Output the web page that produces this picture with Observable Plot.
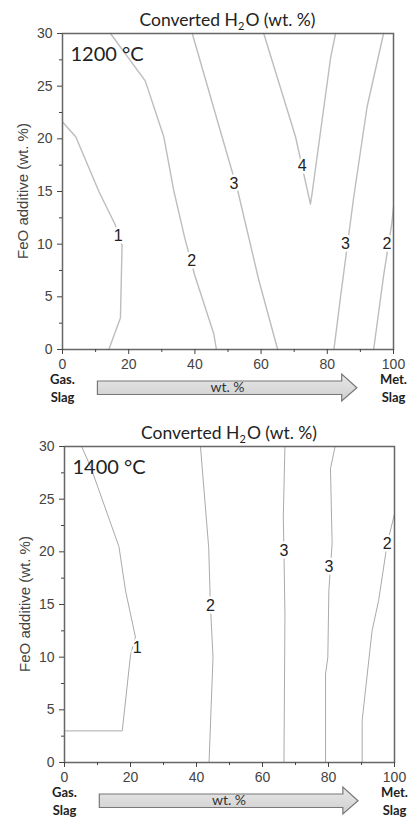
<!DOCTYPE html>
<html><head><meta charset="utf-8">
<script src="https://cdn.jsdelivr.net/npm/d3@7"></script>
<script src="https://cdn.jsdelivr.net/npm/@observablehq/plot@0.6"></script>
<style>
body{margin:0;background:#fff;}
#chart{width:413px;}
#chart svg{display:block;}
</style></head><body><div id="chart"></div>
<script>
// ---- axis ticks & labels ----
const xTicks = [0, 20, 40, 60, 80, 100];
const xMinor = [10, 30, 50, 70, 90];
const yTicks = [0, 5, 10, 15, 20, 25, 30];
const yMinor = [2.5, 7.5, 12.5, 17.5, 22.5, 27.5];
const yLabel = "FeO additive (wt. %)";
const titleParts = ["Converted H", "2", "O (wt. %)"];
const endX = [0, 100];
const endText = ["Gas.\nSlag", "Met.\nSlag"];
const arrowText = "wt. %";
const arrowRange = [10.7, 84.5, 89.1]; // body start, head base, tip (x units)

// ---- 1200 °C contour lines (x = wt.%, y = FeO wt.%) ----
const t1200_level1a = [[0,21.6],[4,20.2],[11,15],[16,11.8],[18,9.9],[17.5,3],[14,0]];
const t1200_level2a = [[14.5,30],[25,25.5],[30.6,20.2],[33.6,15.1],[37,10.5],[40,7],[45.7,1.5],[46.5,0]];
const t1200_level3a = [[39.2,30],[48.2,20.2],[53,15],[59.3,6.6],[65,0]];
const t1200_level4  = [[60.8,30],[70.4,20.2],[74.9,13.8],[75.4,14.8],[81,27.7],[82.5,30]];
const t1200_level3b = [[97,30],[92,23],[88,14.5],[84,5],[82,0]];
const t1200_level2b = [[100,13.5],[99.5,12],[97,7],[94,0]];
const t1200_labX = [16.8, 39, 51.8, 72.4, 85.5, 98];
const t1200_labY = [10.8, 8.4, 15.7, 17.4, 10, 10];
const t1200_labT = ["1", "2", "3", "4", "3", "2"];

// ---- 1400 °C contour lines ----
const t1400_level1a = [[5.2,30],[8,28],[16.5,20.5],[18.5,16.3],[21.5,11.9],[20,10.2],[17.5,3],[0,3]];
const t1400_level2a = [[41.2,30],[43.7,20.4],[44.2,15],[45,10],[43.8,0]];
const t1400_level3a = [[66.8,30],[66.3,23.3],[66.5,20],[66.8,14],[66.5,0]];
const t1400_level3b = [[82,30],[80.6,27.9],[81.1,20.8],[80.1,16.3],[79.8,10],[79.1,8.4],[79.1,0]];
const t1400_level2b = [[100,23.6],[97.8,20.8],[95.2,15.4],[93.2,12.5],[90.2,4],[90.2,0]];
const t1400_labX = [22, 44.2, 66.5, 80.1, 97.8];
const t1400_labY = [10.9, 14.9, 20.1, 18.6, 20.8];
const t1400_labT = ["1", "2", "3", "3", "2"];

const SANS = "'Liberation Sans', Arial, sans-serif";
const CAL = "Lato, 'Open Sans', sans-serif";

function panel(o) {
  const lines = o.lines.flatMap((pts, i) => pts.map(([x, y]) => ({id: i, x, y})));
  const labels = o.labX.map((x, i) => ({x, y: o.labY[i], t: o.labT[i]}));
  const ends = endX.map((x, i) => ({x, t: endText[i]}));
  const plot = Plot.plot({
    width: 413, height: o.height,
    marginTop: o.marginTop, marginBottom: o.marginBottom,
    marginLeft: o.marginLeft, marginRight: o.marginRight,
    x: {domain: [0, 100]},
    y: {domain: [0, 30]},
    style: {fontFamily: SANS, background: "white", overflow: "visible"},
    marks: [
      Plot.line(lines, {x: "x", y: "y", z: "id", stroke: o.lineColor, strokeWidth: o.lineWidth}),
      Plot.text(labels, {x: "x", y: "y", text: "t", fontSize: 16, fontFamily: SANS, fill: "#222",
        stroke: "white", strokeWidth: 5, paintOrder: "stroke"}),
      Plot.frame({stroke: "#666", strokeWidth: 1.5}),
      Plot.axisX(xTicks, {tickSize: 5, tickPadding: 5, fontSize: 14, fontFamily: SANS, color: "#444", label: null}),
      Plot.axisX(xMinor, {tickSize: 3, tickFormat: () => "", color: "#444", label: null}),
      Plot.axisY(yTicks, {tickSize: 5, tickPadding: 5, fontSize: 14, fontFamily: SANS, color: "#444", label: null}),
      Plot.axisY(yMinor, {tickSize: 3, tickFormat: () => "", color: "#444", label: null}),
      Plot.text([o.temp], {text: d => d, frameAnchor: "top-left", textAnchor: "start", lineAnchor: "top",
        dx: 8, dy: 13.5, fontSize: 20, fontFamily: CAL, fill: "#222"}),
      Plot.text(ends, {x: "x", text: "t", frameAnchor: "bottom", lineAnchor: "top", dy: 22,
        fontSize: 13, fontWeight: "bold", fontFamily: CAL, lineHeight: 1.35, fill: "#222"})
    ]
  });
  const sx = plot.scale("x");
  const sy = plot.scale("y");
  const svg = d3.select(plot);
  const fb = o.height - o.marginBottom;
  // y-axis title
  svg.append("text")
    .attr("transform", `translate(${o.marginLeft - 39},${sy.apply(15)}) rotate(-90)`)
    .attr("text-anchor", "middle").attr("dy", "0.35em")
    .attr("font-family", SANS).attr("font-size", 15).attr("fill", "#444").text(yLabel);
  // title
  const cx = sx.apply(50);
  const tt = svg.append("text").attr("x", cx).attr("y", o.marginTop - 7)
    .attr("text-anchor", "middle").attr("font-family", CAL).attr("font-size", 17.5).attr("fill", "#222");
  tt.append("tspan").text(titleParts[0]);
  tt.append("tspan").text(titleParts[1]).attr("font-size", 11).attr("dy", 4);
  tt.append("tspan").text(titleParts[2]).attr("dy", -4).attr("dx", 1);
  // block arrow
  const [a0, a1, a2] = arrowRange.map(v => sx.apply(v));
  const bt = fb + 32, bb = fb + 45.5, ht = fb + 25, hb = fb + 52, hm = (bt + bb) / 2;
  const defs = svg.append("defs");
  const g = defs.append("linearGradient").attr("id", "ag" + o.id).attr("x1", 0).attr("y1", 0).attr("x2", 0).attr("y2", 1);
  g.append("stop").attr("offset", 0).attr("stop-color", "#e8e8e8");
  g.append("stop").attr("offset", 1).attr("stop-color", "#cfcfcf");
  svg.append("path")
    .attr("d", `M${a0},${bt}L${a1},${bt}L${a1},${ht}L${a2},${hm}L${a1},${hb}L${a1},${bb}L${a0},${bb}Z`)
    .attr("fill", `url(#ag${o.id})`).attr("stroke", "#777").attr("stroke-width", 1.2);
  svg.append("text").attr("x", sx.apply(50)).attr("y", hm + 4.5).attr("text-anchor", "middle")
    .attr("font-family", CAL).attr("font-size", 14).attr("fill", "#333").text(arrowText);
  return plot;
}

const chart = document.getElementById("chart");
chart.append(panel({
  id: 1, height: 410, marginTop: 33, marginBottom: 61, marginLeft: 62, marginRight: 20,
  lines: [t1200_level1a, t1200_level2a, t1200_level3a, t1200_level4, t1200_level3b, t1200_level2b],
  labX: t1200_labX, labY: t1200_labY, labT: t1200_labT, temp: "1200 °C",
  lineColor: "#bdbdbd", lineWidth: 1.4
}));
chart.append(panel({
  id: 2, height: 407, marginTop: 36, marginBottom: 55, marginLeft: 64, marginRight: 19,
  lines: [t1400_level1a, t1400_level2a, t1400_level3a, t1400_level3b, t1400_level2b],
  labX: t1400_labX, labY: t1400_labY, labT: t1400_labT, temp: "1400 °C",
  lineColor: "#aaaaaa", lineWidth: 1
}));
</script></body></html>
